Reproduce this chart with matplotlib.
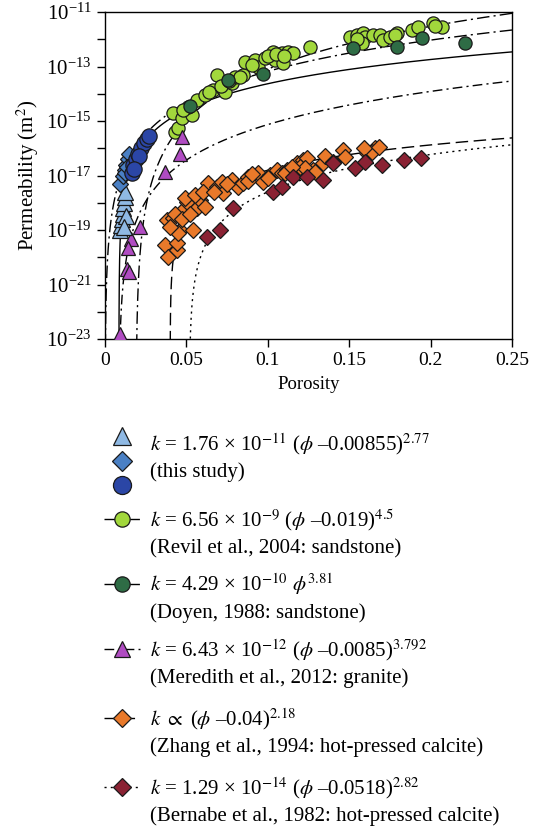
import numpy as np
import matplotlib
matplotlib.use("Agg")
from matplotlib import pyplot as plt
from matplotlib.ticker import FixedLocator, NullFormatter, LogFormatterSciNotation

plt.rcParams['font.family'] = ['Liberation Serif', 'DejaVu Serif']
plt.rcParams['mathtext.fontset'] = 'stix'

# --- data: (porosity, log10 permeability) ---
# this study
tri_phi = [0.0095, 0.0100, 0.0105, 0.0108, 0.0110, 0.0115, 0.0120, 0.0125, 0.0130, 0.0118]
tri_logk = [-19.0, -18.8, -18.6, -18.4, -18.2, -18.0, -17.8, -17.6, -18.5, -18.9]
dia_phi = [0.0095, 0.0110, 0.0120, 0.0130, 0.0140, 0.0125, 0.0150, 0.0135]
dia_logk = [-17.3, -17.0, -16.8, -16.6, -16.4, -16.9, -16.2, -16.7]
cir_phi = [0.0166, 0.0175, 0.0190, 0.0205, 0.0220, 0.0240, 0.0260, 0.0270, 0.0210, 0.0180]
cir_logk = [-16.9, -16.6, -16.4, -16.2, -16.0, -15.8, -15.65, -15.55, -16.3, -16.75]

# Revil et al., 2004
revil_phi = [0.043, 0.0448, 0.0418, 0.0473, 0.0534, 0.051, 0.0565, 0.0614, 0.0663, 0.0688,
             0.0719, 0.0737, 0.078, 0.0799, 0.0848, 0.086, 0.0921, 0.094, 0.0983, 0.1032,
             0.1044, 0.1093, 0.1087, 0.1124, 0.1155, 0.1259, 0.1505, 0.1548, 0.1585, 0.1597,
             0.1646, 0.1689, 0.1708, 0.1751, 0.1794, 0.1886, 0.1923, 0.2015, 0.207, 0.1579,
             0.048, 0.064, 0.071, 0.076, 0.083, 0.090, 0.100, 0.105, 0.110, 0.155, 0.178, 0.203]
revil_logk = [-15.40, -15.26, -14.71, -14.89, -14.78, -14.49, -14.23, -14.05, -13.86, -13.31,
              -13.79, -13.94, -13.61, -13.39, -13.31, -12.83, -12.76, -13.02, -12.69, -12.47,
              -12.76, -12.87, -12.50, -12.47, -12.50, -12.28, -11.92, -11.84, -11.77, -11.92,
              -11.84, -11.84, -12.03, -11.92, -11.77, -11.66, -11.55, -11.40, -11.55, -12.14,
              -14.6, -13.95, -13.7, -13.55, -13.4, -12.95, -12.6, -12.55, -12.6, -12.0, -11.85, -11.5]

# Doyen, 1988
doyen_phi = [0.0522, 0.0756, 0.0971, 0.1523, 0.1794, 0.1947, 0.2211]
doyen_logk = [-14.45, -13.50, -13.28, -12.32, -12.28, -11.95, -12.14]

# Meredith et al., 2012
mered_phi = [0.0473, 0.0461, 0.0369, 0.0215, 0.0160, 0.0141, 0.0135, 0.0147, 0.0092]
mered_logk = [-15.59, -16.21, -16.87, -18.89, -19.33, -19.66, -20.43, -20.54, -22.82]

# Zhang et al., 1994
zhang_phi = [0.0369, 0.0387, 0.0442, 0.0442, 0.0381, 0.0418, 0.0461, 0.0448, 0.0541, 0.0479,
             0.0504, 0.0491, 0.0565, 0.0584, 0.0614, 0.0645, 0.0633, 0.0688, 0.0719, 0.0725,
             0.078, 0.0817, 0.0848, 0.0878, 0.094, 0.0971, 0.1014, 0.1057, 0.1087, 0.1118,
             0.1179, 0.1216, 0.1241, 0.1278, 0.1339, 0.1462, 0.1474, 0.1609, 0.1658, 0.164,
             0.1198, 0.1229, 0.1106, 0.129, 0.040, 0.043, 0.047, 0.052, 0.055, 0.060, 0.067,
             0.075, 0.088, 0.090, 0.100, 0.115, 0.135, 0.140, 0.159, 0.168]
zhang_logk = [-19.55, -19.99, -19.73, -19.48, -18.63, -18.56, -19.0, -19.11, -19.0, -18.27,
              -17.97, -17.83, -18.19, -17.90, -18.16, -17.46, -17.28, -17.42, -17.24, -17.64,
              -17.17, -17.42, -17.28, -17.06, -16.91, -17.24, -16.98, -16.80, -16.91, -16.80,
              -16.54, -16.43, -16.36, -16.80, -16.54, -16.06, -16.32, -16.17, -15.99, -16.14,
              -16.69, -16.72, -16.91, -16.87, -18.9, -18.4, -18.6, -18.4, -17.7, -17.6, -17.6,
              -17.3, -17.2, -16.95, -17.1, -16.7, -16.3, -16.5, -16.0, -15.95]

# Bernabe et al., 1982
bern_phi = [0.0627, 0.0706, 0.0786, 0.1032, 0.1087, 0.1155, 0.1241, 0.1339, 0.1400, 0.1536,
            0.1597, 0.1701, 0.1837, 0.1941]
bern_logk = [-19.26, -19.0, -18.19, -17.61, -17.42, -17.06, -17.06, -17.17, -16.54, -16.72,
             -16.50, -16.61, -16.43, -16.36]

# fit relations k = a * (phi - phi_c)^n  (Zhang prefactor estimated from the plot)
fit_names = ['this study', 'Revil', 'Doyen', 'Meredith', 'Zhang', 'Bernabe']
fit_a = [1.76e-11, 6.56e-9, 4.29e-10, 6.43e-12, 7.2e-15, 1.29e-14]
fit_phic = [0.00855, 0.019, 0.0, 0.0085, 0.04, 0.0518]
fit_n = [2.77, 4.5, 3.81, 3.792, 2.18, 2.82]

fit_styles = ['-', (0, (9, 3, 1.5, 3)), (0, (9, 3, 1.5, 3)), (0, (7, 3, 1.5, 3)),
              (0, (9, 4)), (0, (1.5, 3))]

c_tri = '#8fb9e4'
c_dia = '#4a80c4'
c_cir = '#2b46a6'
c_revil = '#a2d83c'
c_doyen = '#2e6c45'
c_mered = '#b04cc2'
c_zhang = '#e9792a'
c_bern = '#8a2233'

W, H = 537, 827
fig = plt.figure(figsize=(W / 100, H / 100), dpi=100)
ax = fig.add_axes([105 / W, 1 - 339 / H, 407 / W, 327 / H])

for a, pc, n, ls in zip(fit_a, fit_phic, fit_n, fit_styles):
    phi = pc + np.logspace(-9, np.log10(0.25 - pc), 500)
    ax.plot(phi, a * (phi - pc) ** n, color='black', lw=1.0, linestyle=ls, zorder=2)

mk = dict(markeredgecolor='#1a1a1a', markeredgewidth=0.9, linestyle='none', zorder=3)
ax.plot(zhang_phi, 10.0 ** np.array(zhang_logk), 'D', color=c_zhang, ms=7.7, **mk)
ax.plot(bern_phi, 10.0 ** np.array(bern_logk), 'D', color=c_bern, ms=7.7, **mk)
ax.plot(revil_phi, 10.0 ** np.array(revil_logk), 'o', color=c_revil, ms=9.5, **mk)
ax.plot(doyen_phi, 10.0 ** np.array(doyen_logk), 'o', color=c_doyen, ms=9.5, **mk)
ax.plot(mered_phi, 10.0 ** np.array(mered_logk), '^', color=c_mered, ms=9.5, **mk)
ax.plot(tri_phi, 10.0 ** np.array(tri_logk), '^', color=c_tri, ms=11.5, **mk)
ax.plot(dia_phi, 10.0 ** np.array(dia_logk), 'D', color=c_dia, ms=7.7, **mk)
ax.plot(cir_phi, 10.0 ** np.array(cir_logk), 'o', color=c_cir, ms=11, **mk)

ax.set_yscale('log')
ax.set_xlim(0, 0.25)
ax.set_ylim(1e-23, 1e-11)
ax.yaxis.set_major_locator(FixedLocator(10.0 ** np.arange(-23, -10, 2)))
ax.yaxis.set_major_formatter(LogFormatterSciNotation())
ax.yaxis.set_minor_locator(FixedLocator(10.0 ** np.arange(-22, -11, 2)))
ax.yaxis.set_minor_formatter(NullFormatter())
ax.set_xticks([0, 0.05, 0.1, 0.15, 0.2, 0.25])
ax.set_xticklabels(['0', '0.05', '0.1', '0.15', '0.2', '0.25'])
ax.tick_params(which='both', direction='out', length=6, width=1.0, labelsize=14,
               top=False, right=False)
ax.tick_params(axis='y', labelsize=15)
for s in ax.spines.values():
    s.set_linewidth(1.0)
ax.set_xlabel('Porosity', fontsize=13.5, labelpad=5)
ax.set_ylabel('Permeability (m$^2$)', fontsize=15, labelpad=4)

# hand-built legend below the plot, in pixel coordinates
lg = fig.add_axes([0, 0, 1, 1])
lg.set_xlim(0, W)
lg.set_ylim(H, 0)
lg.axis('off')
lg.patch.set_visible(False)

lmk = dict(markeredgecolor='#1a1a1a', markeredgewidth=0.9)
lg.plot([122], [436], '^', color=c_tri, ms=13, **lmk)
lg.plot([122], [461], 'D', color=c_dia, ms=10, **lmk)
lg.plot([122], [485], 'o', color=c_cir, ms=13, **lmk)

entries = [
    (519, fit_styles[1], 'o', c_revil, 11,
     r'$k$ = 6.56 × 10$^{-9}$ ($\phi$ –0.019)$^{4.5}$', '(Revil et al., 2004: sandstone)'),
    (584, fit_styles[2], 'o', c_doyen, 11,
     r'$k$ = 4.29 × 10$^{-10}$ $\phi^{3.81}$', '(Doyen, 1988: sandstone)'),
    (649, fit_styles[3], '^', c_mered, 12,
     r'$k$ = 6.43 × 10$^{-12}$ ($\phi$ –0.0085)$^{3.792}$', '(Meredith et al., 2012: granite)'),
    (718, fit_styles[4], 'D', c_zhang, 9,
     r'$k$ $\propto$ ($\phi$ –0.04)$^{2.18}$', '(Zhang et al., 1994: hot-pressed calcite)'),
    (787, fit_styles[5], 'D', c_bern, 9,
     r'$k$ = 1.29 × 10$^{-14}$ ($\phi$ –0.0518)$^{2.82}$', '(Bernabe et al., 1982: hot-pressed calcite)'),
]
lg.text(150, 450, r'$k$ = 1.76 × 10$^{-11}$ ($\phi$ –0.00855)$^{2.77}$', fontsize=15, va='baseline')
lg.text(150, 477, '(this study)', fontsize=15, va='baseline')
for y, ls, m, c, ms, t1, t2 in entries:
    lg.plot([104, 140], [y, y], color='black', lw=1.0, linestyle=ls)
    lg.plot([122], [y], m, color=c, ms=ms, **lmk)
    lg.text(150, y + 7, t1, fontsize=15, va='baseline')
    lg.text(150, y + 34, t2, fontsize=15, va='baseline')

fig.savefig('out.png', dpi=100)
